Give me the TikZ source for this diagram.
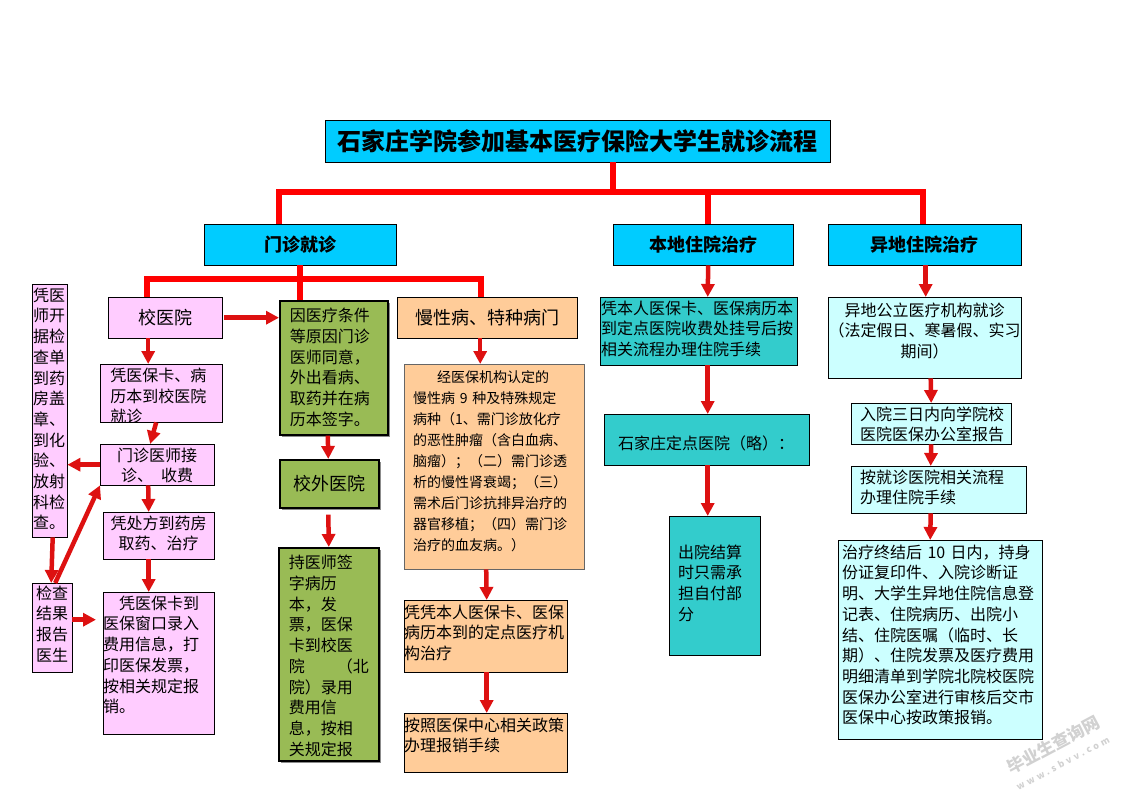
\documentclass[tikz,border=0pt]{standalone}
\usepackage{fontspec}
\setmainfont{Noto Sans CJK SC}
\usetikzlibrary{arrows.meta,shadows}

\tikzset{
  topbox/.style n args={4}{anchor=north west, draw, align=left, inner xsep=#3pt, inner ysep=0pt,
    text width=#1pt-2*#3pt, text height=#4pt+6pt, text depth=#2pt-#4pt-6pt,
    font=\fontsize{16}{20.7}\selectfont},
  midbox/.style 2 args={anchor=north west, draw, align=center, inner sep=0pt,
    minimum width=#1pt, minimum height=#2pt, font=\fontsize{18}{22}\selectfont},
  bluebox/.style={fill=blue1, font=\fontsize{18}{22}\selectfont\bfseries},
  pinkbox/.style={fill=pink1},
  greenbox/.style={fill=green1, line width=1.6pt,
    drop shadow={shadow xshift=2.5pt, shadow yshift=-2.5pt, fill=black!45, opacity=1}},
  orangebox/.style={fill=orange1},
  tealbox/.style={fill=teal1},
  paleblue/.style={fill=pale1},
  trunk/.style={draw=red, line width=6pt},
  redarrow/.style={draw=arrow1, line width=4.5pt, -{Triangle[length=13pt,width=13pt]}}
}
\definecolor{blue1}{HTML}{00CCFF}
\definecolor{pink1}{HTML}{FFCCFF}
\definecolor{green1}{HTML}{99BB55}
\definecolor{orange1}{HTML}{FFCC99}
\definecolor{teal1}{HTML}{33CCCC}
\definecolor{pale1}{HTML}{CCFFFF}
\definecolor{arrow1}{HTML}{DD1111}

\begin{document}
\begin{tikzpicture}[x=1pt,y=-1pt]
  \useasboundingbox (0,0) rectangle (1123,794);

  \node[midbox={505}{42}, bluebox, font=\fontsize{24}{28}\selectfont\bfseries] (title) at (325,120) {石家庄学院参加基本医疗保险大学生就诊流程};
  \node[midbox={192}{41}, bluebox] (menzhen) at (204,224) {门诊就诊};
  \node[midbox={180}{41}, bluebox] (bendi)   at (613,224) {本地住院治疗};
  \node[midbox={193}{41}, bluebox] (yidi)    at (828,224) {异地住院治疗};

  \node[midbox={114}{41}, pinkbox] (xiaoyiyuan) at (108,297) {\raisebox{-2pt}{校医院}};
  \node[midbox={122}{58}, pinkbox, path picture={
    \node[anchor=north west, align=left, inner sep=0pt, minimum width=0pt, minimum height=0pt,
      text width=110pt, text height=17pt, text depth=42pt, font=\fontsize{16}{20.7}\selectfont] (pingkatext)
      at ([xshift=10pt]path picture bounding box.north west) {凭医保卡、病\\历本到校医院\\就诊};
  }] (pingka) at (100,364) {};
  \node[topbox={114}{41}{0}{11}, pinkbox, align=center] (jiezhen) at (100,444) {门诊医师接\\诊、\hspace{8pt}收费};
  \node[topbox={111}{47}{0}{11}, pinkbox, align=center] (chufang) at (103,512) {凭处方到药房\\取药、治疗};
  \node[topbox={111}{142}{0}{11}, pinkbox] (luru) at (103,592) {\hspace*{16pt}凭医保卡到\\医保窗口录入\\费用信息，打\\印医保发票，\\按相关规定报\\销。};
  \node[topbox={35}{253}{1}{11}, pinkbox] (jiancha) at (32,284) {凭医\\师开\\据检\\查单\\到药\\房盖\\章、\\到化\\验、\\放射\\科检\\查。};
  \node[topbox={40}{89}{4}{10}, pinkbox] (jieguo) at (32,583) {检查\\结果\\报告\\医生};

  \node[topbox={108}{134}{10}{15}, greenbox] (waichu) at (279,300) {因医疗条件\\等原因门诊\\医师同意，\\外出看病、\\取药并在病\\历本签字。};
  \node[midbox={99}{48}, greenbox, line width=1.6pt] (xiaowai) at (279,459) {\raisebox{-3pt}{校外医院}};
  \node[topbox={100}{213}{10}{15}, greenbox] (chiyishi) at (278,547) {持医师签\\字病历\\本，发\\票，医保\\卡到校医\\院\hspace{32pt}（北\\院）录用\\费用信\\息，按相\\关规定报};

  \node[midbox={180}{41}, orangebox] (manxing) at (397,297) {\raisebox{-2pt}{慢性病、特种病门}};
  \node[topbox={180}{205}{9}{12}, orangebox, draw=black!60, font=\fontsize{14}{21}\selectfont] (rending) at (404,364) {\hspace*{24pt}经医保机构认定的\\慢性病 9 种及特殊规定\\病种（1、需门诊放化疗\\的恶性肿瘤（含白血病、\\脑瘤）；（二）需门诊透\\析的慢性肾衰竭；（三）\\需术后门诊抗排异治疗的\\器官移植；（四）需门诊\\治疗的血友病。）};
  \node[topbox={163}{72}{0}{12}, orangebox] (pingben) at (404,600) {凭凭本人医保卡、医保\\病历本到的定点医疗机\\构治疗};
  \node[topbox={163}{59}{0}{12}, orangebox] (anzhao) at (404,713) {按照医保中心相关政策\\办理报销手续};

  \node[topbox={197}{68}{1}{11}, tealbox] (guahao) at (600,297) {凭本人医保卡、医保病历本\\到定点医院收费处挂号后按\\相关流程办理住院手续};
  \node[topbox={205}{51}{14}{29}, tealbox] (dingdian) at (604,414) {石家庄定点医院（略）：};
  \node[topbox={91}{139}{9}{36}, tealbox] (jiesuan) at (669,516) {出院结算\\时只需承\\担自付部\\分};

  \node[topbox={193}{81}{0}{13}, paleblue, align=center] (gongli) at (828,297) {异地公立医疗机构就诊\\（法定假日、寒暑假、实习\\期间）};
  \node[topbox={160}{41}{9}{11}, paleblue] (baogao) at (851,403) {入院三日内向学院校\\医院医保办公室报告};
  \node[topbox={175}{47}{9}{11}, paleblue] (banli) at (851,466) {按就诊医院相关流程\\办理住院手续};
  \node[topbox={204}{199}{4}{12}, paleblue] (baoxiao) at (838,540) {治疗终结后 10 日内，持身\\份证复印件、入院诊断证\\明、大学生异地住院信息登\\记表、住院病历、出院小\\结、住院医嘱（临时、长\\期）、住院发票及医疗费用\\明细清单到学院北院校医院\\医保办公室进行审核后交市\\医保中心按政策报销。};

  \node[rotate=28, text=black!18, font=\fontsize{17}{18}\selectfont\bfseries, align=center] (shuiyin) at (1057,752) {毕业生查询网\\{\fontsize{9}{10}\selectfont\addfontfeature{LetterSpace=35}www.sbvv.com}};

  \coordinate (topleft)  at (279,192);
  \coordinate (topright) at (923,192);
  \coordinate (midleft)  at (147,279);
  \coordinate (midright) at (481,279);

  \draw[trunk] ([xshift=35pt]title.south) -- ([xshift=35pt]title.south |- topleft);
  \draw[trunk] (menzhen.north -| topleft) -- (topleft) -- (topright) -- (yidi.north -| topright);
  \draw[trunk] ([xshift=5pt]bendi.north) -- ([xshift=5pt]bendi.north |- topleft);
  \draw[trunk] (xiaoyiyuan.north -| midleft) -- (midleft) -- (midright) -- (manxing.north -| midright);
  \draw[trunk] (menzhen.south) -- (waichu.north -| menzhen.south);

  \draw[redarrow] ([xshift=-17pt]xiaoyiyuan.south) -- ([xshift=-13pt]pingka.north);
  \draw[redarrow] ([xshift=-5pt]pingka.south) -- ([xshift=-7pt]jiezhen.north);
  \draw[redarrow] (jiezhen.west) -- (jiezhen.west -| jiancha.east);
  \draw[redarrow] ([xshift=-9pt]jiezhen.south) -- ([xshift=-10pt]chufang.north);
  \draw[redarrow] ([xshift=-10pt]chufang.south) -- ([xshift=-10pt]luru.north);
  \draw[redarrow] (xiaoyiyuan.east -| 224,0) -- (waichu.west |- xiaoyiyuan.east);
  \draw[redarrow] ([xshift=3pt]jiancha.south) -- ([xshift=-1pt]jieguo.north);
  \draw[redarrow] ([xshift=3pt]jieguo.north) -- (jiezhen.south west);
  \draw[redarrow] ([yshift=8pt]jieguo.east) -- ([xshift=-7pt,yshift=8pt]luru.west |- jieguo.east);

  \draw[redarrow] ([xshift=-6pt]waichu.south) -- ([xshift=-1pt]xiaowai.north);
  \draw[redarrow] ([xshift=-1pt,yshift=-6pt]xiaowai.south) -- (chiyishi.north);

  \draw[redarrow] ([xshift=-7pt]manxing.south) -- ([xshift=-14pt]rending.north);
  \draw[redarrow] ([xshift=-8pt]rending.south) -- ([xshift=1pt]pingben.north);
  \draw[redarrow] ([xshift=1pt]pingben.south) -- ([xshift=1pt]anzhao.north);

  \draw[redarrow] ([xshift=5pt]bendi.south) -- ([xshift=9pt]guahao.north);
  \draw[redarrow] ([xshift=9pt]guahao.south) -- ([xshift=1pt]dingdian.north);
  \draw[redarrow] ([xshift=1pt]dingdian.south) -- ([xshift=-7pt]jiesuan.north);

  \draw[redarrow] ([xshift=1pt]yidi.south) -- ([xshift=1pt]gongli.north);
  \draw[redarrow] ([xshift=6pt]gongli.south) -- (baogao.north);
  \draw[redarrow] (baogao.south) -- ([xshift=-8pt]banli.north);
  \draw[redarrow] ([xshift=-8pt]banli.south) -- ([xshift=-10pt]baoxiao.north);
\end{tikzpicture}
\end{document}
